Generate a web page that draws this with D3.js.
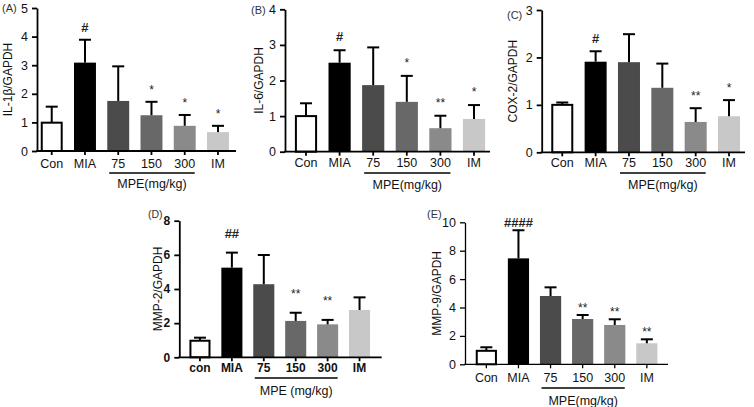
<!DOCTYPE html>
<html>
<head>
<meta charset="utf-8">
<script src="https://cdn.jsdelivr.net/npm/d3@7"></script>
<style>
  html, body { margin: 0; padding: 0; background: #fff; }
  svg { display: block; font-family: "Liberation Sans", Arial, sans-serif; }
</style>
</head>
<body>
<svg id="chart" width="754" height="407"></svg>
<script>
// ---------------- data ----------------
const groupsA = ["Con", "MIA", "75", "150", "300", "IM"];
const groupsD = ["con", "MIA", "75", "150", "300", "IM"];

const il1bMean = [0.99, 3.09, 1.75, 1.25, 0.88, 0.66];
const il1bErr  = [1.55, 3.89, 2.96, 1.72, 1.26, 0.88];
const il1bMarks = ["", "#", "", "*", "*", "*"];
const il1bTicks = [0, 1, 2, 3, 4, 5];

const il6Mean = [1.0, 2.5, 1.87, 1.4, 0.66, 0.92];
const il6Err  = [1.36, 2.85, 2.93, 2.13, 1.01, 1.31];
const il6Marks = ["", "#", "", "*", "**", "*"];
const il6Ticks = [0, 1, 2, 3, 4];

const coxMean = [1.0, 1.91, 1.9, 1.36, 0.64, 0.76];
const coxErr  = [1.05, 2.13, 2.49, 1.87, 0.93, 1.1];
const coxMarks = ["", "#", "", "", "**", "*"];
const coxTicks = [0, 1, 2, 3];

const mmp2Mean = [0.97, 5.25, 4.28, 2.13, 1.93, 2.77];
const mmp2Err  = [1.15, 6.13, 5.99, 2.61, 2.19, 3.51];
const mmp2Marks = ["", "##", "", "**", "**", ""];
const mmp2Ticks = [0, 2, 4, 6, 8];

const mmp9Mean = [0.95, 7.46, 4.81, 3.19, 2.77, 1.48];
const mmp9Err  = [1.2, 9.44, 5.42, 3.47, 3.17, 1.76];
const mmp9Marks = ["", "####", "", "**", "**", "**"];
const mmp9Ticks = [0, 2, 4, 6, 8, 10];

const barFills = ["#ffffff", "#000000", "#4b4b4b", "#686868", "#8a8a8a", "#c8c8c8"];

// ---------------- layout ----------------
const panels = [
  { label: "(A)", ytitle: "IL-1β/GAPDH", cats: groupsA, mean: il1bMean, err: il1bErr, marks: il1bMarks, ticks: il1bTicks,
    group: "MPE(mg/kg)", axisX: 37, axisEnd: 236, yTop: 8, yBot: 151, bandL: 35.1, bandR: 234.6,
    labCY: 163, lineY: 173, grpCY: 183, ylabX: 8, plabX: 2, plabY: 8, markOff: 8, weight: "normal", tickFs: 12.5, plabFs: 11, axisW: 1.8 },
  { label: "(B)", ytitle: "IL-6/GAPDH", cats: groupsA, mean: il6Mean, err: il6Err, marks: il6Marks, ticks: il6Ticks,
    group: "MPE(mg/kg)", axisX: 285, axisEnd: 490, yTop: 9.3, yBot: 151.7, bandL: 289.2, bandR: 490.8,
    labCY: 163, lineY: 173, grpCY: 184, ylabX: 259, plabX: 251, plabY: 10, markOff: 9, weight: "normal", tickFs: 12.5, plabFs: 11, axisW: 1.8 },
  { label: "(C)", ytitle: "COX-2/GAPDH", cats: groupsA, mean: coxMean, err: coxErr, marks: coxMarks, ticks: coxTicks,
    group: "MPE(mg/kg)", axisX: 541.7, axisEnd: 745, yTop: 10, yBot: 152.3, bandL: 545.6, bandR: 745.7,
    labCY: 163, lineY: 173, grpCY: 184, ylabX: 513, plabX: 507, plabY: 15, markOff: 8, weight: "normal", tickFs: 12.5, plabFs: 11, axisW: 1.8 },
  { label: "(D)", ytitle: "MMP-2/GAPDH", cats: groupsD, mean: mmp2Mean, err: mmp2Err, marks: mmp2Marks, ticks: mmp2Ticks,
    group: "MPE (mg/kg)", axisX: 179.3, axisEnd: 381.7, yTop: 220.7, yBot: 357.3, bandL: 184, bandR: 375.5,
    labCY: 368, lineY: 378, grpCY: 390, ylabX: 158, plabX: 148, plabY: 214, markOff: 15, weight: "bold", tickFs: 12, plabFs: 10.5, axisW: 1.8 },
  { label: "(E)", ytitle: "MMP-9/GAPDH", cats: groupsA, mean: mmp9Mean, err: mmp9Err, marks: mmp9Marks, ticks: mmp9Ticks,
    group: "MPE(mg/kg)", axisX: 465, axisEnd: 668, yTop: 222.3, yBot: 364.3, bandL: 470.3, bandR: 662.9,
    labCY: 377.7, lineY: 388, grpCY: 400, ylabX: 437, plabX: 427, plabY: 214, markOff: 3, weight: "normal", tickFs: 12.5, plabFs: 11, axisW: 1.3 }
];

const svg = d3.select("#chart");

panels.forEach(p => {
  const g = svg.append("g");
  const maxY = p.ticks[p.ticks.length - 1];
  const y = d3.scaleLinear().domain([0, maxY]).range([p.yBot, p.yTop]);
  const x = d3.scaleBand().domain(p.cats).range([p.bandL, p.bandR]).paddingInner(0.34).paddingOuter(0.17);
  const bw = x.bandwidth();
  const rows = p.cats.map((c, i) => ({ c, i, m: p.mean[i], e: p.err[i], mk: p.marks[i] }));

  // bars
  g.selectAll("rect.bar").data(rows).join("rect")
    .attr("class", "bar")
    .attr("x", d => x(d.c) + (d.i === 0 ? 1 : 0))
    .attr("width", d => bw - (d.i === 0 ? 2 : 0))
    .attr("y", d => y(d.m))
    .attr("height", d => p.yBot - y(d.m))
    .attr("fill", d => barFills[d.i])
    .attr("stroke", d => d.i === 0 ? "#000" : "none")
    .attr("stroke-width", 2);

  // error bars
  const cx = d => x(d.c) + bw / 2;
  g.selectAll("line.ev").data(rows).join("line")
    .attr("x1", cx).attr("x2", cx)
    .attr("y1", d => y(d.m)).attr("y2", d => y(d.e))
    .attr("stroke", "#000").attr("stroke-width", 2);
  g.selectAll("line.ec").data(rows).join("line")
    .attr("x1", d => cx(d) - 6).attr("x2", d => cx(d) + 6)
    .attr("y1", d => y(d.e)).attr("y2", d => y(d.e))
    .attr("stroke", "#000").attr("stroke-width", 2);

  // significance marks
  g.selectAll("text.mk").data(rows.filter(d => d.mk)).join("text")
    .attr("x", cx).attr("y", d => y(d.e) - p.markOff)
    .attr("text-anchor", "middle")
    .attr("font-size", d => d.mk.startsWith("#") ? 13 : 12)
    .attr("font-weight", d => d.mk.startsWith("#") ? "bold" : "normal")
    .attr("fill", "#222")
    .text(d => d.mk);

  // y axis
  const yAxis = d3.axisLeft(y).tickValues(p.ticks).tickSize(5).tickSizeOuter(0).tickPadding(4).tickFormat(d3.format("d"));
  const ya = g.append("g").attr("transform", `translate(${p.axisX},0)`).call(yAxis);
  ya.select(".domain").attr("stroke-width", p.axisW);
  ya.selectAll(".tick line").attr("stroke-width", p.axisW);
  ya.selectAll(".tick text").attr("font-size", p.tickFs).attr("font-weight", p.weight)
    .attr("font-family", "Liberation Sans, Arial, sans-serif").attr("fill", "#111");

  // x axis
  const xAxis = d3.axisBottom(x).tickSize(4).tickSizeOuter(0).tickPadding(0);
  const xa = g.append("g").attr("transform", `translate(0,${p.yBot})`).call(xAxis);
  xa.select(".domain").remove();
  xa.selectAll(".tick line").attr("stroke-width", p.axisW);
  xa.selectAll(".tick text").attr("y", p.labCY - p.yBot).attr("dy", "0.36em")
    .attr("font-size", p.tickFs).attr("font-weight", p.weight)
    .attr("font-family", "Liberation Sans, Arial, sans-serif").attr("fill", "#111");
  g.append("line").attr("x1", p.axisX - p.axisW / 2).attr("x2", p.axisEnd)
    .attr("y1", p.yBot).attr("y2", p.yBot).attr("stroke", "#000").attr("stroke-width", p.axisW);

  // group underline + label
  const gx1 = x("75") + bw / 2 - 9, gx2 = x("300") + bw / 2 + 10;
  g.append("line").attr("x1", gx1).attr("x2", gx2).attr("y1", p.lineY).attr("y2", p.lineY)
    .attr("stroke", "#000").attr("stroke-width", 1.3);
  g.append("text").attr("x", (gx1 + gx2) / 2).attr("y", p.grpCY).attr("dy", "0.36em")
    .attr("text-anchor", "middle").attr("font-size", 12.5).attr("fill", "#111")
    .text(p.group);

  // y title
  g.append("text")
    .attr("transform", `translate(${p.ylabX},${(p.yTop + p.yBot) / 2}) rotate(-90)`)
    .attr("dy", "0.36em").attr("text-anchor", "middle")
    .attr("font-size", 12).attr("fill", "#111")
    .text(p.ytitle);

  // panel label
  g.append("text").attr("x", p.plabX).attr("y", p.plabY).attr("dy", "0.36em")
    .attr("font-size", p.plabFs).attr("fill", "#333").text(p.label);
});
</script>
</body>
</html>
